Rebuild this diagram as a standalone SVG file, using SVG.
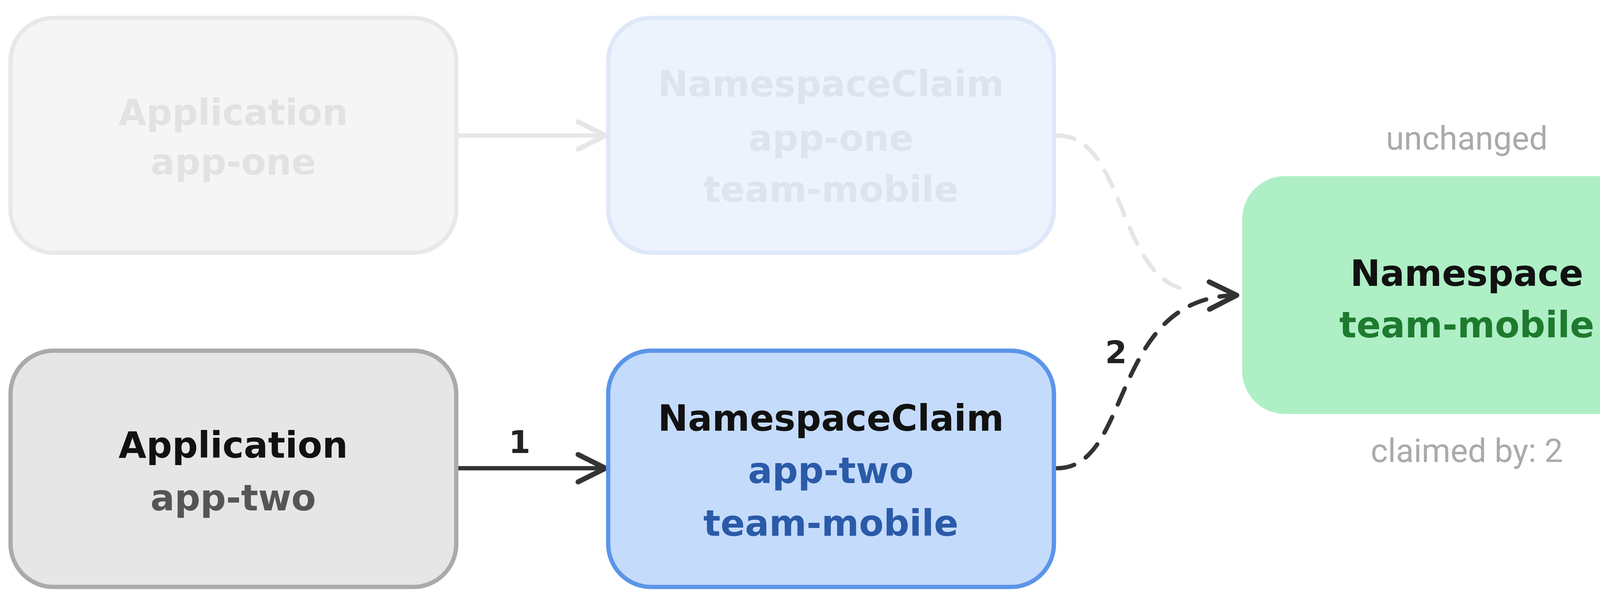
<svg xmlns="http://www.w3.org/2000/svg" width="6044" height="1539" viewBox="0 0 6044 1539">
<style>
.t{font-family:"DejaVu Sans","Liberation Sans",sans-serif;font-weight:bold;font-size:92px;text-anchor:middle}
.l{font-family:Roboto,"Liberation Sans",sans-serif;font-size:84px;fill:#aaaaaa;text-anchor:middle}
.n{font-family:"DejaVu Sans","Liberation Sans",sans-serif;font-weight:bold;font-size:80px;fill:#222;text-anchor:middle}
</style>
<defs>
<marker id="ad" markerUnits="userSpaceOnUse" markerWidth="90" markerHeight="90" viewBox="0 0 90 90" refX="80" refY="45" orient="auto"><path d="M10 10 L80 45 L10 80" fill="none" stroke="#333" stroke-width="13" stroke-linecap="round" stroke-linejoin="round"/></marker>
<marker id="al" markerUnits="userSpaceOnUse" markerWidth="90" markerHeight="90" viewBox="0 0 90 90" refX="80" refY="45" orient="auto"><path d="M10 10 L80 45 L10 80" fill="none" stroke="#e6e6e6" stroke-width="13" stroke-linecap="round" stroke-linejoin="round"/></marker>
</defs>
<rect width="6044" height="1539" fill="#fff"/>
<g id="connectors" fill="none" stroke-width="11" stroke-linecap="round">
<path d="M1168 347 L1550 347" stroke="#e6e6e6" marker-end="url(#al)"/>
<path d="M2706 347 C2880 347 2860 700 3030 740" stroke="#e6e6e6" stroke-dasharray="45 35"/>
<path d="M1168 1199 L1550 1199" stroke="#333" marker-end="url(#ad)"/>
<path d="M2706 1199 C2900 1199 2840 760 3166 756" stroke="#333" stroke-dasharray="45 35" marker-end="url(#ad)"/>
<path d="M4329 756 L4852 756" stroke="#333" marker-end="url(#ad)"/>
<text class="n" x="1330" y="1160">1</text>
<text class="n" x="2857" y="930">2</text>
</g>
<g id="app-one"><rect x="27" y="46" width="1141" height="601" rx="110" fill="#f5f5f5" stroke="#e8e8e8" stroke-width="11"/>
<text class="t" fill="#e2e2e2" x="597" y="320">Application</text><text class="t" fill="#e2e2e2" x="597" y="447">app-one</text></g>
<g id="claim-one"><rect x="1557" y="46" width="1141" height="601" rx="110" fill="#edf3fd" stroke="#dde8f9" stroke-width="11"/>
<text class="t" fill="#dde4ee" x="2127" y="247">NamespaceClaim</text><text class="t" fill="#dde4ee" x="2127" y="386">app-one</text><text class="t" fill="#dde4ee" x="2127" y="517">team-mobile</text></g>
<g id="app-two"><rect x="27" y="898" width="1141" height="605" rx="110" fill="#e6e6e6" stroke="#aaaaaa" stroke-width="11"/>
<text class="t" fill="#111" x="597" y="1172">Application</text><text class="t" fill="#555" x="597" y="1307">app-two</text></g>
<g id="claim-two"><rect x="1557" y="898" width="1141" height="605" rx="110" fill="#c5dbfb" stroke="#5b95e8" stroke-width="11"/>
<text class="t" fill="#111" x="2127" y="1103">NamespaceClaim</text><text class="t" fill="#2a5aa8" x="2127" y="1237">app-two</text><text class="t" fill="#2a5aa8" x="2127" y="1372">team-mobile</text></g>
<g id="ns-green"><rect x="3180" y="451" width="1149" height="609" rx="110" fill="#aeefc6"/>
<text class="t" fill="#111" x="3755" y="732">Namespace</text><text class="t" fill="#1e7a2e" x="3755" y="864">team-mobile</text>
<text class="l" x="3755" y="383">unchanged</text><text class="l" x="3755" y="1183">claimed by: 2</text></g>
<g id="ns-orange"><rect x="4861" y="451" width="1153" height="609" rx="110" fill="#fbc692"/>
<text class="t" fill="#111" x="5437" y="732">Namespace</text><text class="t" fill="#f25b5b" x="5437" y="864">team-mobile</text></g>
</svg>
